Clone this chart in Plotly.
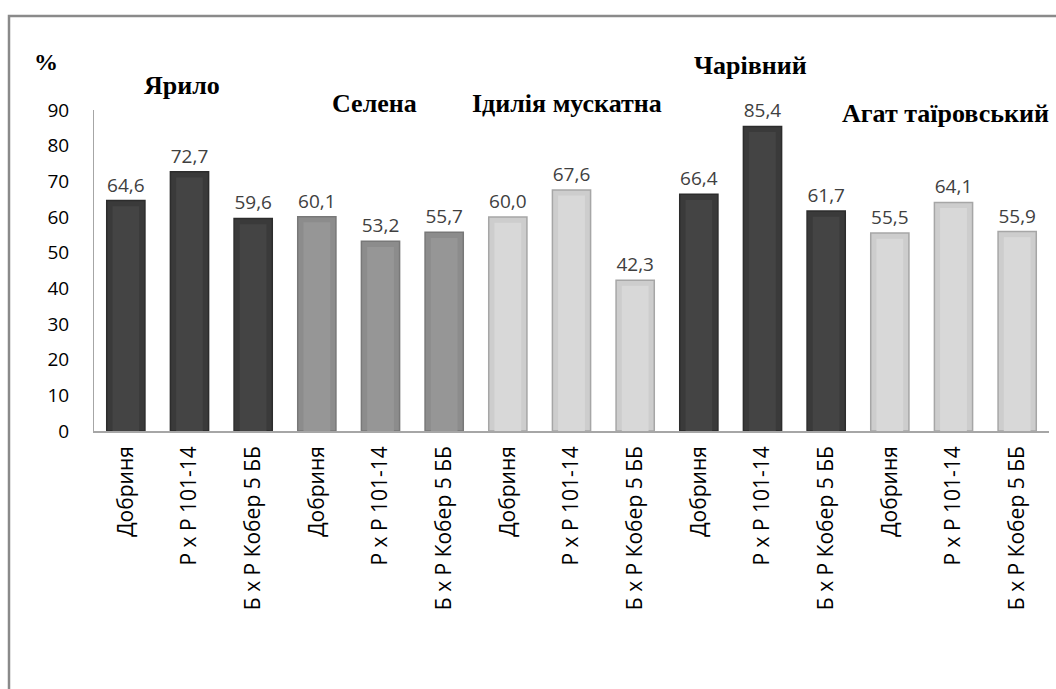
import plotly.graph_objects as go

# Rootstock / scion combinations and their values (%)
categories = ["Добриня", "Р х Р 101-14", "Б х Р Кобер 5 ББ"] * 5
values = [64.6, 72.7, 59.6,
          60.1, 53.2, 55.7,
          60.0, 67.6, 42.3,
          66.4, 85.4, 61.7,
          55.5, 64.1, 55.9]
varieties = ["Ярило", "Селена", "Ідилія мускатна", "Чарівний", "Агат таїровський"]
y_ticks = [0, 10, 20, 30, 40, 50, 60, 70, 80, 90]

# shade per variety: (edge, body, highlight)
shades = {
    "dark": ("#2c2c2c", "#3a3a3a", "#444444"),
    "mid": ("#787878", "#8c8c8c", "#969696"),
    "light": ("#a6a6a6", "#cdcdcd", "#d8d8d8"),
}
variety_shade = ["dark", "mid", "light", "dark", "light"]

x_idx = list(range(len(values)))
edge_col, body_col, hi_col = [], [], []
for i in x_idx:
    s = shades[variety_shade[i // 3]]
    edge_col.append(s[0])
    body_col.append(s[1])
    hi_col.append(s[2])

labels = [f"{v:.1f}".replace(".", ",") for v in values]

fig = go.Figure()
fig.add_trace(go.Bar(
    x=x_idx, y=values, width=0.6,
    marker=dict(color=body_col, line=dict(color=edge_col, width=1.5)),
    text=labels, textposition="outside",
    textfont=dict(family="Open Sans", size=19, color="#404040"),
    cliponaxis=False, showlegend=False,
))
# lighter inner strip for a bevelled look
fig.add_trace(go.Bar(
    x=x_idx, y=[v - 1.6 for v in values], width=0.42,
    marker=dict(color=hi_col, line=dict(width=0)),
    showlegend=False, hoverinfo="skip",
))

W, H = 1056, 689
L, R, T, B = 94, 7, 110, 258
pw, ph = W - L - R, H - T - B


def px(x):
    return (x - L) / pw


def py(y):
    return (H - B - y) / ph


title_pos = [(182, 85), (374, 103), (567, 103), (750, 65), (945, 113)]
annotations = [
    dict(text="<b>%</b>", x=px(46), y=py(62), xref="paper", yref="paper",
         showarrow=False, xanchor="center", yanchor="middle",
         font=dict(family="Liberation Serif", size=24, color="#000000"))
]
for name, (cx, cy) in zip(varieties, title_pos):
    annotations.append(dict(
        text=f"<b>{name}</b>", x=px(cx), y=py(cy), xref="paper", yref="paper",
        showarrow=False, xanchor="center", yanchor="middle",
        font=dict(family="Liberation Serif", size=26, color="#000000")))

fig.update_layout(
    width=W, height=H,
    margin=dict(l=L, r=R, t=T, b=B),
    barmode="overlay",
    plot_bgcolor="white", paper_bgcolor="white",
    annotations=annotations,
    shapes=[dict(type="rect", xref="paper", yref="paper",
                 x0=px(9), x1=px(1080), y0=py(720), y1=py(16),
                 line=dict(color="#8a8a8a", width=2.5), layer="below")],
    xaxis=dict(
        tickmode="array", tickvals=x_idx, ticktext=categories,
        tickangle=-90, range=[-0.5, 14.5],
        showline=True, linecolor="#a6a6a6", linewidth=1.5,
        ticks="", showgrid=False, zeroline=False,
        tickfont=dict(family="Open Sans", size=21, color="#000000"),
        ticklabelstandoff=5,
    ),
    yaxis=dict(
        range=[0, 90], tickmode="array", tickvals=y_ticks,
        showline=True, linecolor="#a6a6a6", linewidth=1,
        ticks="", showgrid=False, zeroline=False,
        tickfont=dict(family="Open Sans", size=19, color="#000000"),
        ticklabelstandoff=20,
    ),
)

fig.write_html("out.html")
